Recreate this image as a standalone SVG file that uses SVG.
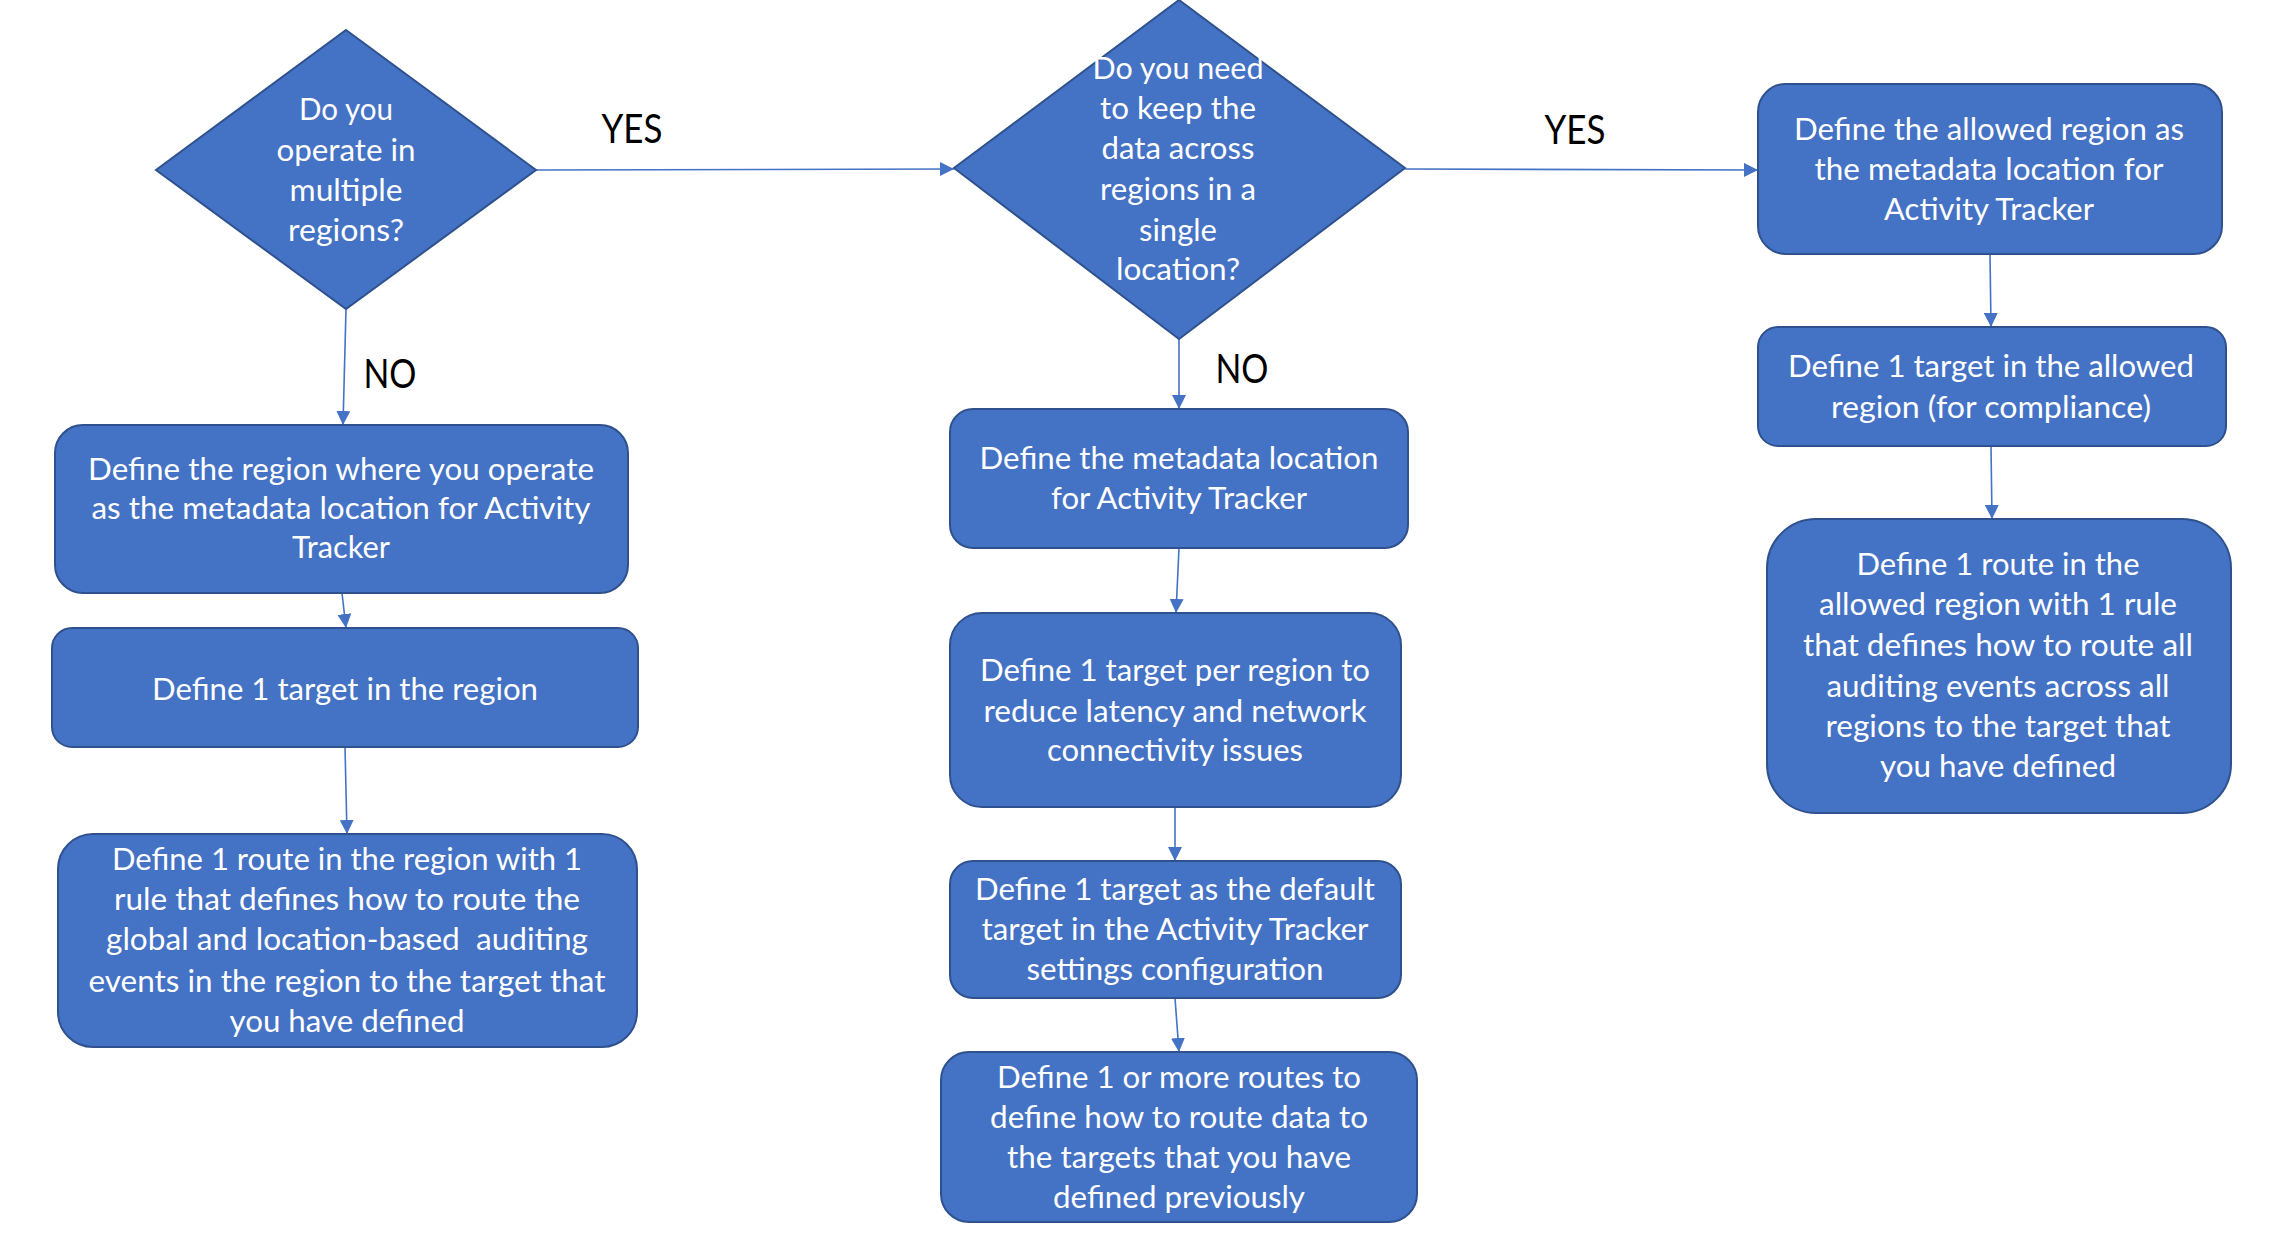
<svg xmlns="http://www.w3.org/2000/svg" width="2292" height="1260" viewBox="0 0 2292 1260">
<style>
.shape{fill:#4472C4;stroke:#2F528F;stroke-width:2}
.t{font-family:Lato,"Open Sans","Liberation Sans",sans-serif;font-size:31px;fill:#FFFFFF;text-anchor:middle}
.lbl{font-family:Lato,"Open Sans","Liberation Sans",sans-serif;font-size:40px;fill:#000000;text-anchor:middle}
.c{stroke:#4472C4;stroke-width:1.6;fill:none;marker-end:url(#arr)}
</style>
<defs>
<marker id="arr" viewBox="0 0 14 14" refX="14" refY="7" markerWidth="14" markerHeight="14" markerUnits="userSpaceOnUse" orient="auto">
<path d="M0,0 L14,7 L0,14 z" fill="#4472C4"/>
</marker>
</defs>
<rect width="2292" height="1260" fill="#FFFFFF"/>
<g id="connectors">
<line class="c" x1="536" y1="170" x2="954" y2="169"/>
<line class="c" x1="1405" y1="169" x2="1758" y2="170"/>
<line class="c" x1="346" y1="309" x2="343" y2="425"/>
<line class="c" x1="342" y1="593" x2="346" y2="628"/>
<line class="c" x1="345" y1="747" x2="347" y2="834"/>
<line class="c" x1="1179" y1="339" x2="1179" y2="409"/>
<line class="c" x1="1179" y1="548" x2="1176" y2="613"/>
<line class="c" x1="1175" y1="807" x2="1175" y2="861"/>
<line class="c" x1="1175" y1="998" x2="1179" y2="1052"/>
<line class="c" x1="1990" y1="254" x2="1991" y2="327"/>
<line class="c" x1="1991" y1="446" x2="1992" y2="519"/>
<text class="lbl" x="632" y="143" textLength="61" lengthAdjust="spacingAndGlyphs">YES</text>
<text class="lbl" x="390" y="388" textLength="53" lengthAdjust="spacingAndGlyphs">NO</text>
<text class="lbl" x="1242" y="383" textLength="53" lengthAdjust="spacingAndGlyphs">NO</text>
<text class="lbl" x="1575" y="144" textLength="61" lengthAdjust="spacingAndGlyphs">YES</text>
</g>
<g id="d1">
<polygon class="shape" points="346,30 536,170 346,309 156,170"/>
<text class="t" x="346" y="120" textLength="94" lengthAdjust="spacingAndGlyphs">Do you</text>
<text class="t" x="346" y="161" textLength="139" lengthAdjust="spacingAndGlyphs">operate in</text>
<text class="t" x="346" y="201" textLength="113" lengthAdjust="spacingAndGlyphs">multiple</text>
<text class="t" x="346" y="241" textLength="116" lengthAdjust="spacingAndGlyphs">regions?</text>
</g>
<g id="l1">
<rect class="shape" x="55" y="425" width="573" height="168" rx="28"/>
<text class="t" x="341" y="480" textLength="506" lengthAdjust="spacingAndGlyphs">Define the region where you operate</text>
<text class="t" x="341" y="519" textLength="499" lengthAdjust="spacingAndGlyphs">as the metadata location for Activity</text>
<text class="t" x="341" y="558" textLength="98" lengthAdjust="spacingAndGlyphs">Tracker</text>
</g>
<g id="l2">
<rect class="shape" x="52" y="628" width="586" height="119" rx="20"/>
<text class="t" x="345" y="700" textLength="386" lengthAdjust="spacingAndGlyphs">Define 1 target in the region</text>
</g>
<g id="l3">
<rect class="shape" x="58" y="834" width="579" height="213" rx="35"/>
<text class="t" x="347" y="870" textLength="470" lengthAdjust="spacingAndGlyphs">Define 1 route in the region with 1</text>
<text class="t" x="347" y="910" textLength="466" lengthAdjust="spacingAndGlyphs">rule that defines how to route the</text>
<text class="t" x="347" y="950" textLength="482" lengthAdjust="spacingAndGlyphs" xml:space="preserve">global and location-based  auditing</text>
<text class="t" x="347" y="992" textLength="517" lengthAdjust="spacingAndGlyphs">events in the region to the target that</text>
<text class="t" x="347" y="1032" textLength="235" lengthAdjust="spacingAndGlyphs">you have defined</text>
</g>
<g id="d2">
<polygon class="shape" points="1179,0 1405,168 1179,339 954,168"/>
<text class="t" x="1178" y="79" textLength="171" lengthAdjust="spacingAndGlyphs">Do you need</text>
<text class="t" x="1178" y="119" textLength="156" lengthAdjust="spacingAndGlyphs">to keep the</text>
<text class="t" x="1178" y="159" textLength="153" lengthAdjust="spacingAndGlyphs">data across</text>
<text class="t" x="1178" y="200" textLength="156" lengthAdjust="spacingAndGlyphs">regions in a</text>
<text class="t" x="1178" y="241" textLength="78" lengthAdjust="spacingAndGlyphs">single</text>
<text class="t" x="1178" y="280" textLength="124" lengthAdjust="spacingAndGlyphs">location?</text>
</g>
<g id="m1">
<rect class="shape" x="950" y="409" width="458" height="139" rx="23"/>
<text class="t" x="1179" y="469" textLength="399" lengthAdjust="spacingAndGlyphs">Define the metadata location</text>
<text class="t" x="1179" y="509" textLength="256" lengthAdjust="spacingAndGlyphs">for Activity Tracker</text>
</g>
<g id="m2">
<rect class="shape" x="950" y="613" width="451" height="194" rx="32"/>
<text class="t" x="1175" y="681" textLength="390" lengthAdjust="spacingAndGlyphs">Define 1 target per region to</text>
<text class="t" x="1175" y="722" textLength="383" lengthAdjust="spacingAndGlyphs">reduce latency and network</text>
<text class="t" x="1175" y="761" textLength="256" lengthAdjust="spacingAndGlyphs">connectivity issues</text>
</g>
<g id="m3">
<rect class="shape" x="950" y="861" width="451" height="137" rx="23"/>
<text class="t" x="1175" y="900" textLength="400" lengthAdjust="spacingAndGlyphs">Define 1 target as the default</text>
<text class="t" x="1175" y="940" textLength="387" lengthAdjust="spacingAndGlyphs">target in the Activity Tracker</text>
<text class="t" x="1175" y="980" textLength="297" lengthAdjust="spacingAndGlyphs">settings configuration</text>
</g>
<g id="m4">
<rect class="shape" x="941" y="1052" width="476" height="170" rx="28"/>
<text class="t" x="1179" y="1088" textLength="364" lengthAdjust="spacingAndGlyphs">Define 1 or more routes to</text>
<text class="t" x="1179" y="1128" textLength="378" lengthAdjust="spacingAndGlyphs">define how to route data to</text>
<text class="t" x="1179" y="1168" textLength="344" lengthAdjust="spacingAndGlyphs">the targets that you have</text>
<text class="t" x="1179" y="1208" textLength="252" lengthAdjust="spacingAndGlyphs">defined previously</text>
</g>
<g id="r1">
<rect class="shape" x="1758" y="84" width="464" height="170" rx="28"/>
<text class="t" x="1989" y="140" textLength="390" lengthAdjust="spacingAndGlyphs">Define the allowed region as</text>
<text class="t" x="1989" y="180" textLength="349" lengthAdjust="spacingAndGlyphs">the metadata location for</text>
<text class="t" x="1989" y="220" textLength="210" lengthAdjust="spacingAndGlyphs">Activity Tracker</text>
</g>
<g id="r2">
<rect class="shape" x="1758" y="327" width="468" height="119" rx="20"/>
<text class="t" x="1991" y="377" textLength="406" lengthAdjust="spacingAndGlyphs">Define 1 target in the allowed</text>
<text class="t" x="1991" y="418" textLength="320" lengthAdjust="spacingAndGlyphs">region (for compliance)</text>
</g>
<g id="r3">
<rect class="shape" x="1767" y="519" width="464" height="294" rx="49"/>
<text class="t" x="1998" y="575" textLength="283" lengthAdjust="spacingAndGlyphs">Define 1 route in the</text>
<text class="t" x="1998" y="615" textLength="358" lengthAdjust="spacingAndGlyphs">allowed region with 1 rule</text>
<text class="t" x="1998" y="656" textLength="390" lengthAdjust="spacingAndGlyphs">that defines how to route all</text>
<text class="t" x="1998" y="697" textLength="343" lengthAdjust="spacingAndGlyphs">auditing events across all</text>
<text class="t" x="1998" y="737" textLength="345" lengthAdjust="spacingAndGlyphs">regions to the target that</text>
<text class="t" x="1998" y="777" textLength="236" lengthAdjust="spacingAndGlyphs">you have defined</text>
</g>
</svg>
